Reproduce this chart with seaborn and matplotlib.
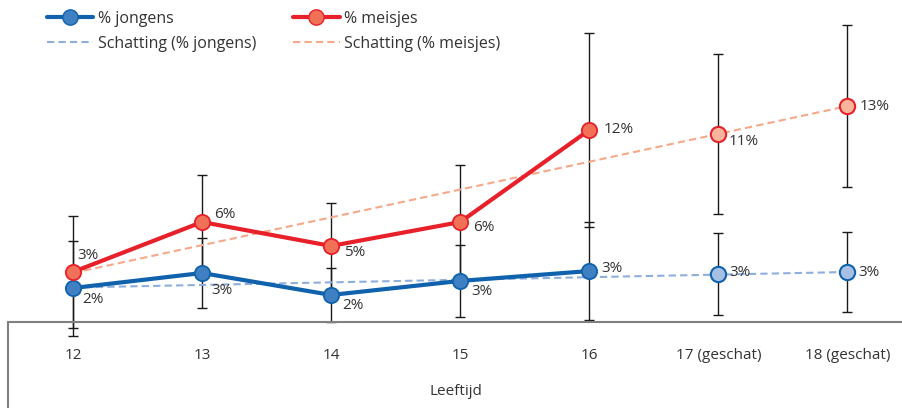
import numpy as np
import pandas as pd
import matplotlib
matplotlib.use("Agg")
import matplotlib.pyplot as plt
from matplotlib.lines import Line2D
import seaborn as sns

# =========================================
# DATA
# =========================================

ages = ["12", "13", "14", "15", "16", "17 (geschat)", "18 (geschat)"]

# measured percentages (12 - 16)
jongens = [2.24, 3.15, 1.82, 2.67, 3.27]
meisjes = [3.21, 6.24, 4.79, 6.24, 11.82]

# estimated points (17, 18)
jongens_geschat = [3.09, 3.21]
meisjes_geschat = [11.58, 13.27]

# trend lines (start at 12, end at 18)
schatting_jongens = [2.27, 3.21]
schatting_meisjes = [3.15, 13.27]

# error bar half widths for all ages
err_jongens = [2.88, 2.15, 1.64, 2.18, 2.97, 2.48, 2.42]
err_meisjes = [3.42, 2.85, 2.61, 3.45, 5.88, 4.85, 4.91]

labels_jongens = ["2%", "3%", "2%", "3%", "3%", "3%", "3%"]
labels_meisjes = ["3%", "6%", "5%", "6%", "12%", "11%", "13%"]

# =========================================
# STYLE
# =========================================

sns.set_theme(style="white")
plt.rcParams["font.family"] = ["Open Sans", "DejaVu Sans"]

blue = "#0f62ab"
blue_fill = "#3f80c2"
blue_light = "#a6bfe3"
blue_dash = "#8eaedc"
red = "#e8202a"
red_fill = "#f07058"
red_light = "#f8b59b"
red_dash = "#f5a88a"
text_col = "#333333"

fig = plt.figure(figsize=(9.03, 4.08), dpi=100)
ax = fig.add_axes([8 / 903, 86 / 408, 895 / 903, 322 / 408])

x_all = np.arange(len(ages))
x_meas = x_all[:len(jongens)]
x_est = x_all[len(jongens):]
x_trend = [x_all[0], x_all[-1]]

all_j = jongens + jongens_geschat
all_m = meisjes + meisjes_geschat

# -----------------------------------------
# ERROR BARS
# -----------------------------------------

for vals, errs in [(all_m, err_meisjes), (all_j, err_jongens)]:
    eb = ax.errorbar(x_all, vals, yerr=errs, fmt="none", ecolor="#1a1a1a",
                     elinewidth=1.0, capsize=3.5, capthick=1.0, zorder=1)
    for art in eb.lines[1] + eb.lines[2]:
        art.set_clip_on(False)

# -----------------------------------------
# TREND LINES
# -----------------------------------------

sns.lineplot(x=x_trend, y=schatting_jongens, ax=ax, color=blue_dash,
             linewidth=1.5, linestyle=(0, (3.5, 2)), zorder=2)
sns.lineplot(x=x_trend, y=schatting_meisjes, ax=ax, color=red_dash,
             linewidth=1.5, linestyle=(0, (3.5, 2)), zorder=2)

# -----------------------------------------
# MEASURED LINES
# -----------------------------------------

sns.lineplot(x=x_meas, y=jongens, ax=ax, color=blue, linewidth=3.0,
             marker="o", markersize=11, markerfacecolor=blue_fill,
             markeredgecolor=blue, markeredgewidth=1.3, zorder=4)
sns.lineplot(x=x_meas, y=meisjes, ax=ax, color=red, linewidth=3.0,
             marker="o", markersize=11, markerfacecolor=red_fill,
             markeredgecolor=red, markeredgewidth=1.3, zorder=4)

# estimated points
ax.plot(x_est, jongens_geschat, linestyle="none", marker="o", markersize=11,
        markerfacecolor=blue_light, markeredgecolor=blue,
        markeredgewidth=1.5, zorder=4)
ax.plot(x_est, meisjes_geschat, linestyle="none", marker="o", markersize=11,
        markerfacecolor=red_light, markeredgecolor=red,
        markeredgewidth=1.5, zorder=4)

# -----------------------------------------
# VALUE LABELS
# -----------------------------------------

off_j = [(9, -11), (9, -17), (11, -11), (11, -11), (12, 3), (11, 1), (11, 0)]
off_m = [(4, 17), (12, 8), (13, -7), (13, -5), (14, 0), (10, -8), (12, 0)]

for i in range(len(ages)):
    ax.annotate(labels_jongens[i], (x_all[i], all_j[i]), xytext=off_j[i],
                textcoords="offset pixels", ha="left", va="center",
                fontsize=11, color=text_col, zorder=5)
    ax.annotate(labels_meisjes[i], (x_all[i], all_m[i]), xytext=off_m[i],
                textcoords="offset pixels", ha="left", va="center",
                fontsize=11, color=text_col, zorder=5)

# -----------------------------------------
# AXES
# -----------------------------------------

ax.set_xlim(-0.503, 6.43)
ax.set_ylim(0.18, 19.7)
ax.set_yticks([])
ax.set_xticks(x_all)
ax.set_xticklabels(ages, fontsize=11, color=text_col)
ax.tick_params(axis="x", length=0, pad=19)
ax.set_xlabel("Leeftijd", fontsize=11, color=text_col, labelpad=15)

for side in ["top", "left", "right"]:
    ax.spines[side].set_visible(False)
ax.spines["bottom"].set_color("#808080")
ax.spines["bottom"].set_linewidth(1.5)

fig.add_artist(Line2D([8 / 903, 8 / 903], [0, 86 / 408],
                      transform=fig.transFigure, color="#808080", linewidth=1.5))

# -----------------------------------------
# LEGEND
# -----------------------------------------

if ax.get_legend() is not None:
    ax.get_legend().remove()

handles = [
    Line2D([], [], color=blue, linewidth=3.0, marker="o", markersize=11,
           markerfacecolor=blue_fill, markeredgecolor=blue),
    Line2D([], [], color=blue_dash, linewidth=1.5, linestyle=(0, (3.5, 2))),
    Line2D([], [], color=red, linewidth=3.0, marker="o", markersize=11,
           markerfacecolor=red_fill, markeredgecolor=red),
    Line2D([], [], color=red_dash, linewidth=1.5, linestyle=(0, (3.5, 2))),
]
names = ["% jongens", "Schatting (% jongens)", "% meisjes", "Schatting (% meisjes)"]

leg = fig.legend(handles, names, loc="upper left",
                 bbox_to_anchor=(47 / 903, 1 - 11 / 408), ncol=2,
                 frameon=False, fontsize=11.5, handlelength=2.9,
                 handletextpad=0.3, columnspacing=2.3, borderpad=0,
                 borderaxespad=0, labelspacing=0.55)
for t in leg.get_texts():
    t.set_color(text_col)

fig.savefig("out.png", dpi=100)
